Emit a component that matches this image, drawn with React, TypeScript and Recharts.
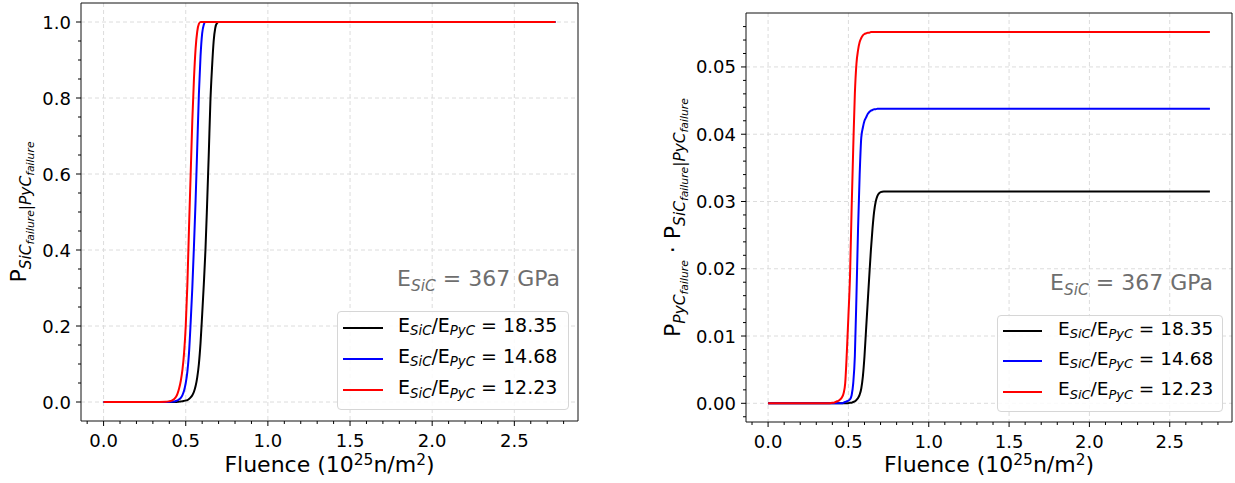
import React from "react";
import { LineChart, Line, XAxis, YAxis, CartesianGrid, ReferenceArea, Legend } from "recharts";

// fluence (10^25 n/m^2), shared x for all curves
const fluence = [
  0, 0.3, 0.38,
  0.4, 0.41, 0.42, 0.43, 0.44, 0.45, 0.46, 0.47, 0.48, 0.49,
  0.5, 0.51, 0.52, 0.53, 0.54, 0.55, 0.56, 0.57, 0.58, 0.59,
  0.6, 0.61, 0.62, 0.63, 0.64, 0.65, 0.66, 0.67, 0.68, 0.69,
  0.7, 0.72, 0.75, 0.8, 2.75,
];

// left panel: P(SiC failure | PyC failure)
const condBlack = [
  0, 0, 0,
  0, 0, 0, 0, 0, 0.0005, 0.001, 0.0015, 0.002, 0.003,
  0.004, 0.005, 0.008, 0.012, 0.018, 0.027, 0.042, 0.065, 0.1, 0.155,
  0.23, 0.31, 0.4, 0.52, 0.65, 0.79, 0.88, 0.95, 0.985, 0.997,
  1, 1, 1, 1, 1,
];
const condBlue = [
  0, 0, 0,
  0.0003, 0.0005, 0.001, 0.0015, 0.0025, 0.004, 0.007, 0.011, 0.018, 0.03,
  0.05, 0.08, 0.13, 0.21, 0.3, 0.41, 0.53, 0.67, 0.81, 0.91,
  0.97, 0.993, 1, 1, 1, 1, 1, 1, 1, 1,
  1, 1, 1, 1, 1,
];
const condRed = [
  0, 0, 0.0005,
  0.002, 0.003, 0.005, 0.008, 0.013, 0.022, 0.036, 0.056, 0.085, 0.13,
  0.2, 0.31, 0.46, 0.6, 0.74, 0.85, 0.93, 0.975, 0.995, 1,
  1, 1, 1, 1, 1, 1, 1, 1, 1, 1,
  1, 1, 1, 1, 1,
];

// right panel: P(PyC failure) * P(SiC failure | PyC failure)
const jointBlack = [
  0, 0, 0,
  0, 0, 0, 0, 0, 0, 0, 0, 0, 0,
  0, 0.0001, 0.0001, 0.0002, 0.0003, 0.0005, 0.0008, 0.0013, 0.0022, 0.004,
  0.007, 0.011, 0.015, 0.019, 0.0228, 0.026, 0.0285, 0.03, 0.0308, 0.0312,
  0.0314, 0.0315, 0.0315, 0.0315, 0.0315,
];
const jointBlue = [
  0, 0, 0,
  0, 0, 0, 0, 0, 0, 0, 0.0001, 0.0002, 0.0003,
  0.0004, 0.0006, 0.0012, 0.003, 0.007, 0.016, 0.026, 0.034, 0.0395, 0.041,
  0.042, 0.0425, 0.043, 0.0433, 0.0435, 0.0436, 0.0437, 0.0437, 0.0438, 0.0438,
  0.0438, 0.0438, 0.0438, 0.0438, 0.0438,
];
const jointRed = [
  0, 0, 0,
  0.0001, 0.0001, 0.0002, 0.0003, 0.0004, 0.0006, 0.0009, 0.0015, 0.003, 0.0075,
  0.013, 0.019, 0.029, 0.038, 0.046, 0.0505, 0.0525, 0.0537, 0.0543, 0.0547,
  0.0549, 0.055, 0.0551, 0.0551, 0.0552, 0.0552, 0.0552, 0.0552, 0.0552, 0.0552,
  0.0552, 0.0552, 0.0552, 0.0552, 0.0552,
];

const ratioLabels = ["18.35", "14.68", "12.23"];
const seriesColors = ["#000000", "#0000ff", "#ff0000"];

const xMajorTicks = [0, 0.5, 1.0, 1.5, 2.0, 2.5];
const leftYMajorTicks = [0, 0.2, 0.4, 0.6, 0.8, 1.0];
const rightYMajorTicks = [0, 0.01, 0.02, 0.03, 0.04, 0.05];

const X_DOMAIN: [number, number] = [-0.1375, 2.8875];
const LEFT_Y_DOMAIN: [number, number] = [-0.05, 1.05];
const RIGHT_Y_DOMAIN: [number, number] = [-0.00278, 0.05802];

const FONT = "'DejaVu Sans', sans-serif";

// minor tick positions, layout only
const steps = (from: number, to: number, step: number) => {
  const out: number[] = [];
  const n = Math.round((to - from) / step);
  for (let i = 0; i <= n; i++) out.push(Math.round((from + i * step) * 1e6) / 1e6);
  return out;
};
const isMajor = (v: number, majors: number[]) => majors.some((m) => Math.abs(m - v) < 1e-9);
const withMinor = (majors: number[], minors: number[]) =>
  [...majors, ...minors.filter((m) => !isMajor(m, majors))].sort((a, b) => a - b);

const xTicks = withMinor(xMajorTicks, steps(-0.1, 2.8, 0.1));
const leftYTicks = withMinor(leftYMajorTicks, steps(0.05, 0.95, 0.05));
const rightYTicks = withMinor(rightYMajorTicks, steps(-0.002, 0.056, 0.002));

const makeXTick = (majors: number[]) => (p: any) => {
  const v = p.payload.value;
  const major = isMajor(v, majors);
  return (
    <g>
      <line x1={p.x} x2={p.x} y1={p.y} y2={p.y + (major ? 5 : 3)} stroke="#000" strokeWidth={1} />
      {major && (
        <text x={p.x} y={p.y + 26} textAnchor="middle" fontSize={18} fontFamily={FONT} fill="#000">
          {v.toFixed(1)}
        </text>
      )}
    </g>
  );
};

const makeYTick = (majors: number[], decimals: number) => (p: any) => {
  const v = p.payload.value;
  const major = isMajor(v, majors);
  return (
    <g>
      <line x1={p.x - (major ? 5 : 3)} x2={p.x} y1={p.y} y2={p.y} stroke="#000" strokeWidth={1} />
      {major && (
        <text x={p.x - 10} y={p.y + 6.5} textAnchor="end" fontSize={18} fontFamily={FONT} fill="#000">
          {v.toFixed(decimals)}
        </text>
      )}
    </g>
  );
};

const Sub = ({ children }: { children: React.ReactNode }) => (
  <span style={{ fontSize: "0.7em", fontStyle: "italic", position: "relative", top: "0.25em" }}>{children}</span>
);

const makeLegend = (fontSize: number, rowH: number, lineLeft: number, lineLen: number, textLeft: number) => (props: any) => {
  // keep the series order (black, blue, red) instead of the legend's sorted order
  const items = [...(props.payload || [])].sort((a: any, b: any) =>
    String(a.dataKey).localeCompare(String(b.dataKey))
  );
  return (
    <div
      style={{
        boxSizing: "border-box",
        width: "100%",
        height: "100%",
        border: "1px solid #d6d6d6",
        borderRadius: 4,
        background: "rgba(255,255,255,0.85)",
        fontFamily: FONT,
        fontSize,
        color: "#000",
      }}
    >
      {items.map((entry: any, i: number) => (
        <div key={i} style={{ position: "relative", height: rowH, whiteSpace: "nowrap" }}>
          <div
            style={{
              position: "absolute",
              left: lineLeft,
              top: rowH / 2 - 1,
              width: lineLen,
              height: 2,
              background: entry.color,
            }}
          />
          <div style={{ position: "absolute", left: textLeft, top: rowH / 2 - fontSize * 0.62, lineHeight: 1 }}>
            E<Sub>SiC</Sub>/E<Sub>PyC</Sub> = {entry.value}
          </div>
        </div>
      ))}
    </div>
  );
};

type PanelProps = {
  left: number;
  width: number;
  series: number[][];
  yDomain: [number, number];
  yTicks: number[];
  yMajor: number[];
  yDecimals: number;
  yAxisWidth: number;
  margin: { top: number; right: number; bottom: number; left: number };
  legendBox: { left: number; top: number; width: number; height: number };
  legendContent: (p: any) => React.ReactNode;
};

function Panel(props: PanelProps) {
  const rows = fluence.map((x, i) => ({
    x,
    s0: props.series[0][i],
    s1: props.series[1][i],
    s2: props.series[2][i],
  }));
  return (
    <div style={{ position: "absolute", left: props.left, top: 0 }}>
      <LineChart width={props.width} height={483} data={rows} margin={props.margin}>
        <CartesianGrid
          stroke="#dcdcdc"
          strokeDasharray="4 3"
          horizontalValues={props.yMajor}
          verticalValues={xMajorTicks}
        />
        <XAxis
          type="number"
          dataKey="x"
          domain={X_DOMAIN}
          allowDataOverflow
          ticks={xTicks}
          interval={0}
          height={40}
          tickSize={0}
          tickMargin={0}
          tickLine={false}
          axisLine={false}
          tick={makeXTick(xMajorTicks)}
        />
        <YAxis
          type="number"
          domain={props.yDomain}
          allowDataOverflow
          ticks={props.yTicks}
          interval={0}
          width={props.yAxisWidth}
          tickSize={0}
          tickMargin={0}
          tickLine={false}
          axisLine={false}
          tick={makeYTick(props.yMajor, props.yDecimals)}
        />
        {[0, 1, 2].map((k) => (
          <Line
            key={k}
            type="monotone"
            dataKey={`s${k}`}
            name={ratioLabels[k]}
            stroke={seriesColors[k]}
            strokeWidth={2}
            dot={false}
            activeDot={false}
            isAnimationActive={false}
          />
        ))}
        <ReferenceArea
          x1={X_DOMAIN[0]}
          x2={X_DOMAIN[1]}
          y1={props.yDomain[0]}
          y2={props.yDomain[1]}
          fill="none"
          fillOpacity={0}
          stroke="#111"
          strokeWidth={1}
          strokeOpacity={1}
        />
        <Legend
          layout="horizontal"
          verticalAlign="middle"
          align="center"
          content={props.legendContent}
          wrapperStyle={{ position: "absolute", ...props.legendBox }}
        />
      </LineChart>
    </div>
  );
}

const subT = { fontSize: 15.4, fontStyle: "italic" as const };
const subsubT = { fontSize: 10.8, fontStyle: "italic" as const };

function Labels() {
  return (
    <svg
      width={1235}
      height={483}
      style={{ position: "absolute", left: 0, top: 0, pointerEvents: "none" }}
      fontFamily={FONT}
    >
      {/* left y label */}
      <text transform="translate(26,212) rotate(-90)" textAnchor="middle" fontSize={22} fill="#000">
        P
        <tspan dy={4.5} {...subT}>SiC</tspan>
        <tspan dy={3.5} {...subsubT}>failure</tspan>
        <tspan dy={-3.5} {...subT}>|PyC</tspan>
        <tspan dy={3.5} {...subsubT}>failure</tspan>
      </text>
      {/* right y label */}
      <text transform="translate(680,217.5) rotate(-90)" textAnchor="middle" fontSize={22} fill="#000">
        P
        <tspan dy={4.5} {...subT}>PyC</tspan>
        <tspan dy={3.5} {...subsubT}>failure</tspan>
        <tspan dy={-8}>{" \u00b7 P"}</tspan>
        <tspan dy={4.5} {...subT}>SiC</tspan>
        <tspan dy={3.5} {...subsubT}>failure</tspan>
        <tspan dy={-3.5} {...subT}>|PyC</tspan>
        <tspan dy={3.5} {...subsubT}>failure</tspan>
      </text>
      {/* x labels */}
      {[329.5, 989].map((cx, i) => (
        <text key={i} x={cx} y={472} textAnchor="middle" fontSize={22} fill="#000">
          Fluence (10
          <tspan dy={-7} fontSize={15.4}>25</tspan>
          <tspan dy={7}>n/m</tspan>
          <tspan dy={-7} fontSize={15.4}>2</tspan>
          <tspan dy={7}>)</tspan>
        </text>
      ))}
      {/* modulus annotations */}
      {[
        [560, 286],
        [1213, 290],
      ].map(([x, y], i) => (
        <text key={i} x={x} y={y} textAnchor="end" fontSize={22} fill="#6e6e6e">
          E
          <tspan dy={4.5} {...subT}>SiC</tspan>
          <tspan dy={-4.5}>{" = 367 GPa"}</tspan>
        </text>
      ))}
    </svg>
  );
}

export default function App() {
  return (
    <div style={{ position: "absolute", left: 0, top: 0, width: 1235, height: 483, background: "#fff" }}>
      <Panel
        left={0}
        width={600}
        series={[condBlack, condBlue, condRed]}
        yDomain={LEFT_Y_DOMAIN}
        yTicks={leftYTicks}
        yMajor={leftYMajorTicks}
        yDecimals={1}
        yAxisWidth={81}
        margin={{ top: 3, right: 22, bottom: 22, left: 0 }}
        legendBox={{ left: 337, top: 311, width: 232, height: 99 }}
        legendContent={makeLegend(19, 31.3, 5, 40, 60)}
      />
      <Panel
        left={620}
        width={615}
        series={[jointBlack, jointBlue, jointRed]}
        yDomain={RIGHT_Y_DOMAIN}
        yTicks={rightYTicks}
        yMajor={rightYMajorTicks}
        yDecimals={2}
        yAxisWidth={126}
        margin={{ top: 13, right: 3, bottom: 21, left: 0 }}
        legendBox={{ left: 377, top: 315, width: 226, height: 97 }}
        legendContent={makeLegend(18.5, 30.3, 5, 39, 60)}
      />
      <Labels />
    </div>
  );
}
